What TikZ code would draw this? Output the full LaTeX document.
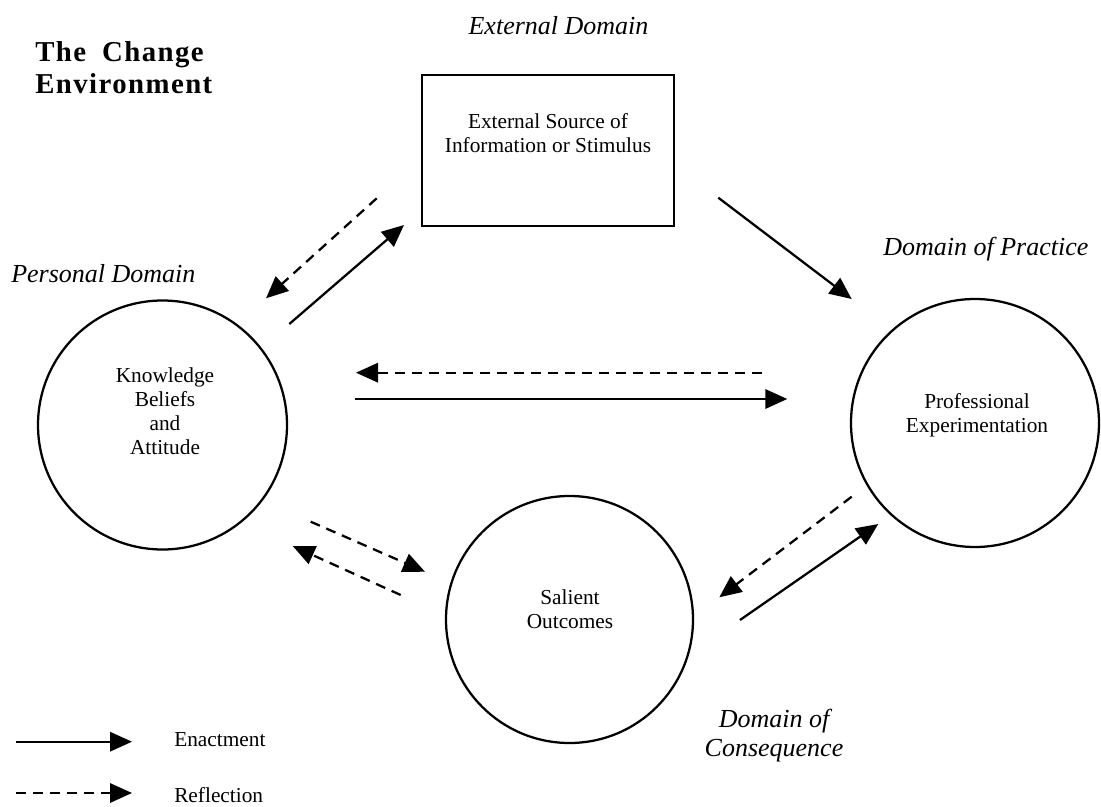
\documentclass[tikz,border=0pt]{standalone}
\usepackage{fontspec}
\setmainfont{Liberation Serif}
\newfontfamily\titlefont[LetterSpace=5]{Liberation Serif}
\usetikzlibrary{arrows.meta}
\begin{document}
\begin{tikzpicture}[x=0.75pt,y=-0.75pt,
  enact/.style={line width=1.7pt,-{Triangle[length=16.5pt,width=14.5pt]}},
  reflect/.style={enact, dash pattern=on 7.5pt off 5.25pt},
  domaincircle/.style={circle,draw,line width=1.7pt,inner sep=0pt},
  body/.style={font=\fontsize{16}{18}\selectfont, align=center, inner sep=0pt},
  domainlabel/.style={font=\fontsize{19.5}{21.5}\selectfont\itshape, inner sep=0pt, align=center},
]
\useasboundingbox (0,0) rectangle (1101,807);

% title
\node[anchor=north west, inner sep=0pt, align=left,
      font=\titlefont\bfseries\fontsize{21.6}{24}\selectfont] (title) at (35,41.5)
      {The\hspace{12pt}Change\\Environment};

% domain labels
\node[domainlabel, anchor=base] (extdom) at (558.5,34) {External Domain};
\node[domainlabel, anchor=base west] (persdom) at (11,282) {Personal Domain};
\node[domainlabel, anchor=base west] (practdom) at (883,255) {Domain of Practice};
\node[domainlabel] (consdom) at (774,735.3) {Domain of\\Consequence};

% main shapes
\node[draw, line width=1.7pt, minimum width=189pt, minimum height=113.25pt, inner sep=0pt] (ext) at (548,150.5) {};
\node[body] (exttext) at (548,132.7) {External Source of\\Information or Stimulus};

\node[domaincircle, minimum size=186.75pt] (kba) at (162.5,425) {};
\node[body] (kbatext) at (165,411.5) {Knowledge\\Beliefs\\and\\Attitude};

\node[domaincircle, minimum size=186pt] (pe) at (975,423) {};
\node[body] (petext) at (977,414.8) {Professional\\Experimentation};

\node[domaincircle, minimum size=185.25pt] (so) at (569.5,619.5) {};
\node[body] (sotext) at (570,609.5) {Salient\\Outcomes};

% connector end points
\coordinate (kbaup) at (289.3,324);
\coordinate (extdl) at (404,225);
\coordinate (extdlr) at (376.7,198.3);
\coordinate (kbaupr) at (266,298.3);
\coordinate (extdr) at (718.3,197.7);
\coordinate (peul) at (851.7,299);
\coordinate (pelr) at (761.7,372.7);
\coordinate (kbarr) at (356,372.7);
\coordinate (kbar) at (355,399);
\coordinate (pel) at (787.3,399);
\coordinate (kbalr1) at (310.7,521.7);
\coordinate (soul) at (425,571.7);
\coordinate (soulr) at (400.7,595);
\coordinate (kbalr2) at (292.7,546);
\coordinate (pellr) at (851.7,496.7);
\coordinate (sorr) at (719.3,597.3);
\coordinate (sor) at (740,620);
\coordinate (pell) at (878.3,524);

% connectors
\draw[enact] (kbaup) -- (extdl);
\draw[reflect] (extdlr) -- (kbaupr);
\draw[enact] (extdr) -- (peul);
\draw[reflect] (pelr) -- (kbarr);
\draw[enact] (kbar) -- (pel);
\draw[reflect] (kbalr1) -- (soul);
\draw[reflect] (soulr) -- (kbalr2);
\draw[reflect] (pellr) -- (sorr);
\draw[enact] (sor) -- (pell);

% legend
\coordinate (l1s) at (16,741.7);
\coordinate (l1e) at (132,741.7);
\coordinate (l2s) at (16,793);
\coordinate (l2e) at (132,793);
\draw[enact] (l1s) -- (l1e);
\draw[reflect] (l2s) -- (l2e);
\node[body, anchor=base west] (enacttext) at (174,746) {Enactment};
\node[body, anchor=base west] (refltext) at (174,802) {Reflection};
\end{tikzpicture}
\end{document}
